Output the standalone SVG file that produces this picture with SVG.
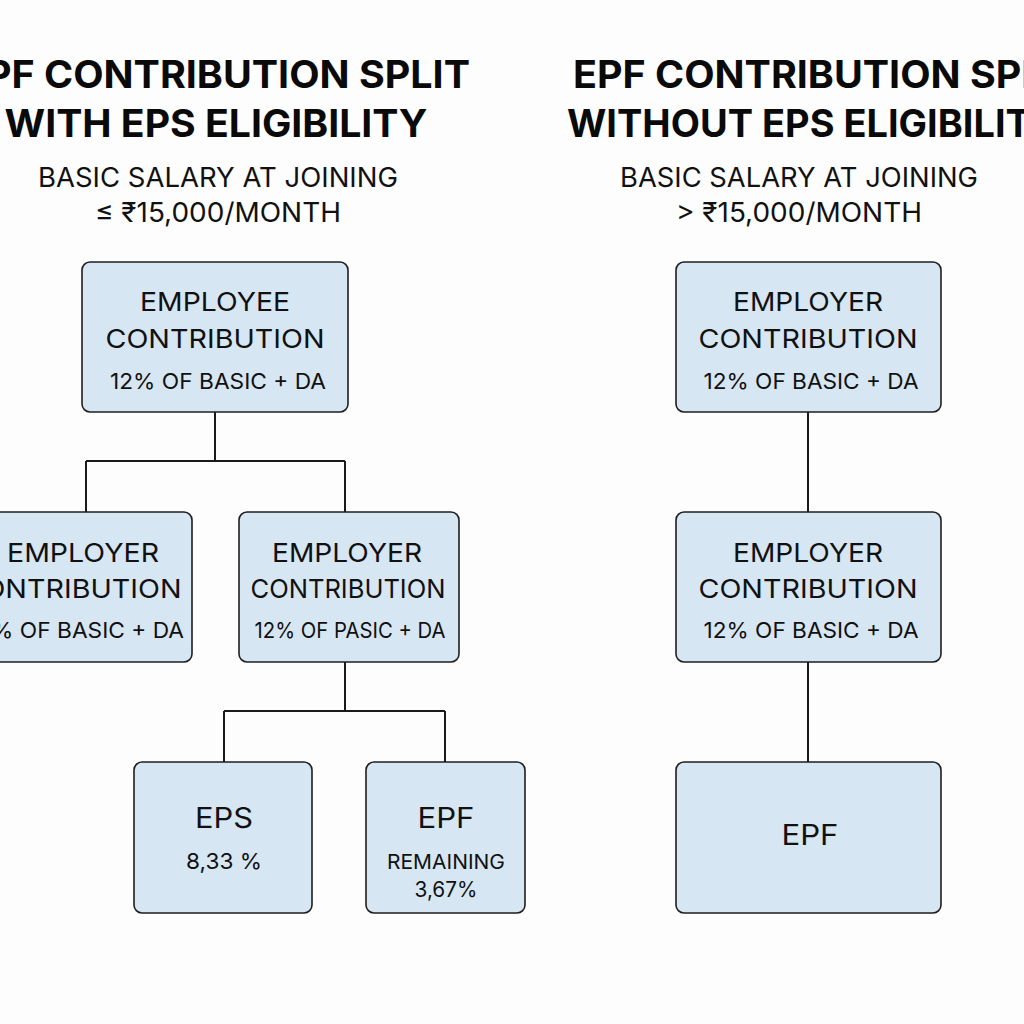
<svg xmlns="http://www.w3.org/2000/svg" width="1024" height="1024" viewBox="0 0 1024 1024">
<style>
.bg{fill:#fdfdfd}
.box{fill:#d7e6f3;stroke:#1f1f1f;stroke-width:1.6}
.t{font-family:Inter,"Liberation Sans",sans-serif;fill:#111;text-anchor:middle}
.title{font-family:Inter,"Liberation Sans",sans-serif;font-weight:700;font-size:38px;fill:#0a0a0a}
.sub{font-size:27px}
.l1{font-size:26px}
.l2{font-size:22px}
.big{font-size:28px}
.conn{fill:none;stroke:#1a1a1a;stroke-width:2}
</style>
<rect class="bg" width="1024" height="1024"/>
<g id="titles">
<text class="title" x="216" y="88" text-anchor="middle" textLength="508" lengthAdjust="spacingAndGlyphs">EPF CONTRIBUTION SPLIT</text>
<text class="title" x="216" y="137" text-anchor="middle" textLength="423" lengthAdjust="spacingAndGlyphs">WITH EPS ELIGIBILITY</text>
<text class="t sub" x="218" y="187" textLength="360" lengthAdjust="spacingAndGlyphs">BASIC SALARY AT JOINING</text>
<text class="t sub" x="218" y="222" textLength="246" lengthAdjust="spacingAndGlyphs">≤ ₹15,000/MONTH</text>
<text class="title" x="573" y="88" textLength="508" lengthAdjust="spacingAndGlyphs">EPF CONTRIBUTION SPLIT</text>
<text class="title" x="567" y="137" textLength="492" lengthAdjust="spacingAndGlyphs">WITHOUT EPS ELIGIBILITY</text>
<text class="t sub" x="799" y="187" textLength="358" lengthAdjust="spacingAndGlyphs">BASIC SALARY AT JOINING</text>
<text class="t sub" x="799" y="222" textLength="246" lengthAdjust="spacingAndGlyphs">&gt; ₹15,000/MONTH</text>
</g>
<g id="connectors">
<path class="conn" d="M215 412V461M86 461H345M86 461V512M345 461V512"/>
<path class="conn" d="M345 662V711M224 711H445M224 711V762M445 711V762"/>
<path class="conn" d="M808 412V512M808 662V762"/>
</g>
<g id="employee-left">
<rect class="box" x="82" y="262" width="266" height="150" rx="8"/>
<text class="t l1" x="215" y="311" textLength="150" lengthAdjust="spacingAndGlyphs">EMPLOYEE</text>
<text class="t l1" x="215" y="348" textLength="219" lengthAdjust="spacingAndGlyphs">CONTRIBUTION</text>
<text class="t l2" x="218" y="389" textLength="216" lengthAdjust="spacingAndGlyphs">12% OF BASIC + DA</text>
</g>
<g id="employer-left-a">
<rect class="box" x="-12" y="512" width="204" height="150" rx="8"/>
<text class="t l1" x="83" y="562" textLength="152" lengthAdjust="spacingAndGlyphs">EMPLOYER</text>
<text class="t l1" x="72" y="598" textLength="219" lengthAdjust="spacingAndGlyphs">CONTRIBUTION</text>
<text class="t l2" x="76" y="638" textLength="216" lengthAdjust="spacingAndGlyphs">12% OF BASIC + DA</text>
</g>
<g id="employer-left-b">
<rect class="box" x="239" y="512" width="220" height="150" rx="8"/>
<text class="t l1" x="347" y="562" textLength="150" lengthAdjust="spacingAndGlyphs">EMPLOYER</text>
<text class="t l1" x="348" y="598" textLength="195" lengthAdjust="spacingAndGlyphs">CONTRIBUTION</text>
<text class="t l2" x="350" y="638" textLength="191" lengthAdjust="spacingAndGlyphs">12% OF PASIC + DA</text>
</g>
<g id="eps">
<rect class="box" x="134" y="762" width="178" height="151" rx="8"/>
<text class="t big" x="224" y="828" textLength="58" lengthAdjust="spacingAndGlyphs">EPS</text>
<text class="t l2" x="224" y="869" textLength="76" lengthAdjust="spacingAndGlyphs">8,33 %</text>
</g>
<g id="epf-left">
<rect class="box" x="366" y="762" width="159" height="151" rx="8"/>
<text class="t big" x="446" y="828" textLength="57" lengthAdjust="spacingAndGlyphs">EPF</text>
<text class="t" x="446" y="869" font-size="20" textLength="118" lengthAdjust="spacingAndGlyphs">REMAINING</text>
<text class="t" x="446" y="897" font-size="21" textLength="63" lengthAdjust="spacingAndGlyphs">3,67%</text>
</g>
<g id="employer-right-a">
<rect class="box" x="676" y="262" width="265" height="150" rx="8"/>
<text class="t l1" x="808" y="311" textLength="150" lengthAdjust="spacingAndGlyphs">EMPLOYER</text>
<text class="t l1" x="808" y="348" textLength="219" lengthAdjust="spacingAndGlyphs">CONTRIBUTION</text>
<text class="t l2" x="811" y="389" textLength="215" lengthAdjust="spacingAndGlyphs">12% OF BASIC + DA</text>
</g>
<g id="employer-right-b">
<rect class="box" x="676" y="512" width="265" height="150" rx="8"/>
<text class="t l1" x="808" y="562" textLength="150" lengthAdjust="spacingAndGlyphs">EMPLOYER</text>
<text class="t l1" x="808" y="598" textLength="219" lengthAdjust="spacingAndGlyphs">CONTRIBUTION</text>
<text class="t l2" x="811" y="638" textLength="215" lengthAdjust="spacingAndGlyphs">12% OF BASIC + DA</text>
</g>
<g id="epf-right">
<rect class="box" x="676" y="762" width="265" height="151" rx="8"/>
<text class="t big" x="810" y="845" textLength="57" lengthAdjust="spacingAndGlyphs">EPF</text>
</g>
</svg>
